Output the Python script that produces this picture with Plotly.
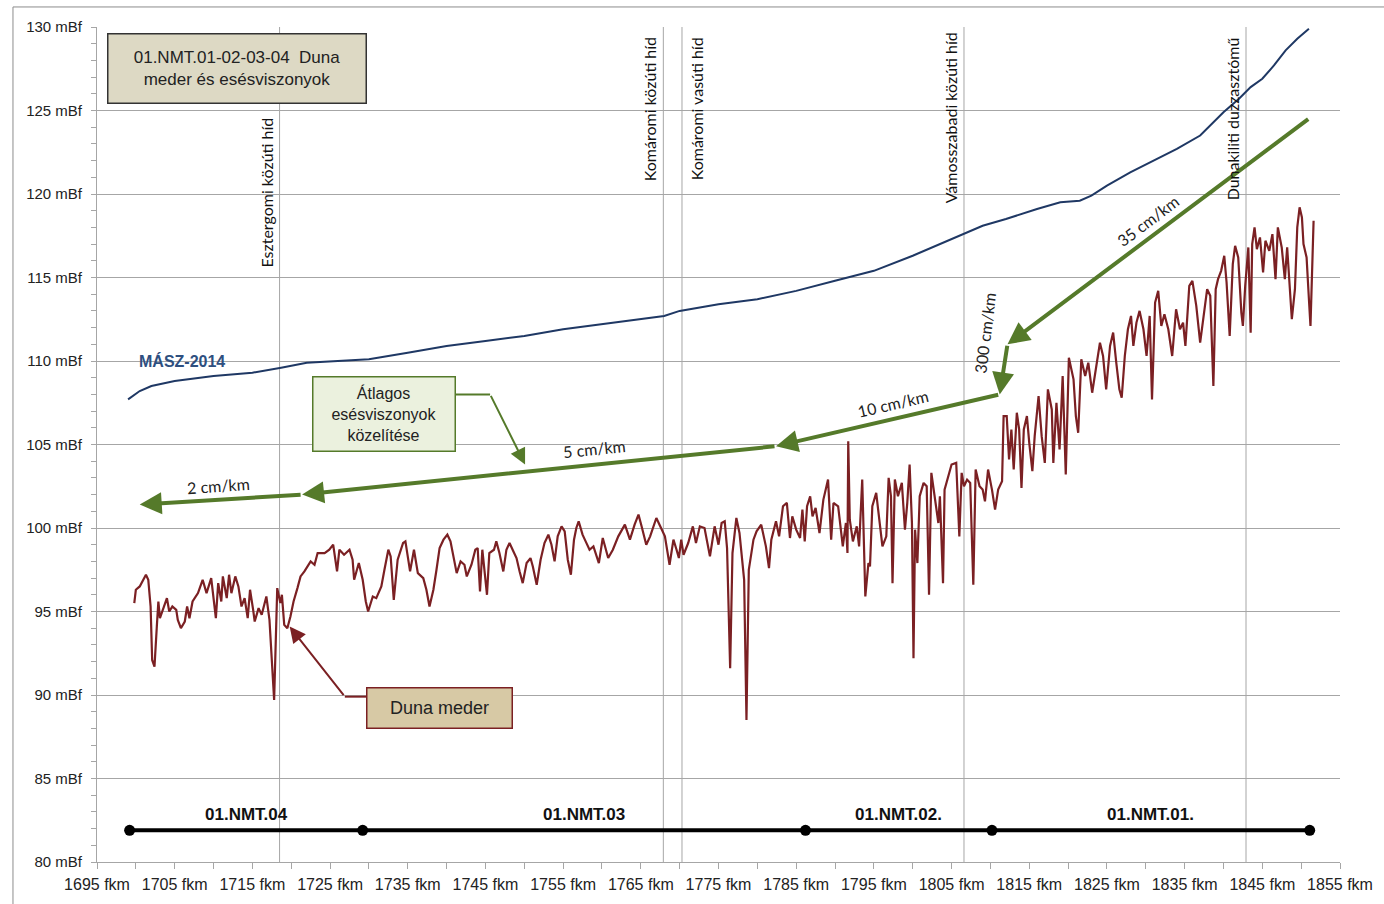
import plotly.graph_objects as go

# ---------------- data ----------------
bed_km = [1699.8, 1700.0, 1700.5, 1701.3, 1701.6, 1701.9, 1702.1, 1702.4, 1702.7, 1702.9, 1703.1, 1703.6, 1704.0,
          1704.3, 1704.7, 1705.2, 1705.4, 1705.8, 1706.3, 1706.6, 1706.9, 1707.3, 1708.0, 1708.6, 1709.1, 1709.7,
          1710.3, 1710.6, 1711.0, 1711.2, 1711.7, 1712.0, 1712.3, 1712.8, 1713.2, 1713.6, 1714.0, 1714.4, 1714.7,
          1715.1, 1715.3, 1715.8, 1716.2, 1716.8, 1717.2, 1717.8, 1718.2, 1718.6, 1718.8, 1719.1, 1719.5, 1719.9,
          1720.3, 1720.8, 1721.2, 1721.7, 1722.1, 1722.5, 1723.0, 1723.4, 1724.3, 1724.9, 1725.4, 1725.9, 1726.2,
          1726.8, 1727.5, 1727.9, 1728.1, 1728.7, 1729.2, 1729.6, 1729.9,
          1730.5, 1730.95, 1731.6, 1732.0, 1732.5, 1732.8, 1733.2, 1733.7, 1734.4, 1734.7, 1735.0, 1735.3, 1735.8,
          1736.3, 1737.0, 1737.4, 1737.8, 1738.3, 1738.7, 1739.1, 1739.6, 1740.1, 1740.5, 1740.9, 1741.3, 1741.8,
          1742.3, 1742.6, 1743.2, 1743.7, 1744.0, 1744.3, 1744.6, 1745.2, 1745.5, 1746.1, 1746.4, 1746.8, 1747.3,
          1747.7, 1748.1, 1748.5, 1749.0, 1749.4, 1749.8, 1750.3, 1750.8, 1751.1, 1751.6, 1752.1, 1752.6, 1753.1,
          1753.5, 1753.9, 1754.3, 1754.8, 1755.2, 1755.6, 1756.0, 1756.4, 1756.7, 1757.0, 1757.5, 1757.9, 1758.4,
          1758.9, 1759.6, 1760.1, 1760.8, 1761.4, 1762.1,
          1762.95, 1763.6, 1764.2, 1764.7, 1765.1, 1765.7, 1766.2, 1766.6, 1767.0, 1767.5, 1768.1, 1768.7, 1769.2,
          1769.6, 1769.9, 1770.2, 1770.5, 1771.1, 1771.7, 1772.1, 1772.6, 1773.2, 1773.9, 1774.5, 1775.0, 1775.4,
          1775.8, 1776.1, 1776.5, 1776.8, 1777.3, 1777.7, 1778.3, 1778.6, 1778.9, 1779.5, 1779.9, 1780.5, 1781.1,
          1781.5, 1781.8, 1782.4, 1782.8, 1783.3, 1783.8, 1784.2, 1784.5, 1785.0, 1785.5, 1785.8, 1786.1, 1786.4,
          1786.8, 1787.1, 1787.5, 1788.0, 1788.5, 1789.1, 1789.5, 1789.8, 1790.4, 1791.0, 1791.4, 1791.6, 1791.7,
          1791.9, 1792.3, 1792.8, 1793.1, 1793.5, 1793.9, 1794.3,
          1794.5, 1794.8, 1795.3, 1795.7, 1796.1, 1796.6, 1796.9, 1797.2, 1797.4, 1797.7, 1798.1, 1798.6, 1799.0,
          1799.3, 1799.6, 1799.9, 1800.1, 1800.3, 1800.6, 1800.9, 1801.4, 1801.8, 1802.1, 1802.4, 1802.9, 1803.3,
          1803.5, 1803.9, 1804.1, 1804.5, 1805.0, 1805.6, 1806.0, 1806.3, 1806.6, 1807.0, 1807.4, 1807.8, 1808.1,
          1808.6, 1809.0, 1809.3, 1809.7, 1810.2, 1810.6, 1811.0, 1811.5, 1811.7, 1812.1, 1812.4, 1812.7, 1813.0,
          1813.4, 1813.7, 1814.0, 1814.3, 1814.7, 1815.0, 1815.4, 1815.7, 1816.2, 1816.6, 1817.0, 1817.4, 1817.9,
          1818.1, 1818.5, 1818.9, 1819.3, 1819.7, 1820.1, 1820.7, 1821.0, 1821.3, 1821.7, 1822.2, 1822.6, 1823.1,
          1823.6,
          1824.1, 1824.5, 1824.9, 1825.4, 1825.8, 1826.2, 1826.6, 1826.9, 1827.3, 1827.7, 1828.1, 1828.4, 1828.8,
          1829.2, 1829.7, 1830.1, 1830.5, 1830.8, 1831.2, 1831.6, 1832.0, 1832.4, 1832.9, 1833.4, 1833.9, 1834.4,
          1834.8, 1835.1, 1835.6, 1836.0, 1836.5, 1837.0, 1837.5, 1837.9, 1838.3, 1838.7, 1839.0, 1839.3, 1839.7,
          1840.1, 1840.4, 1840.8, 1841.2, 1841.5, 1841.9, 1842.3, 1842.5, 1842.8, 1843.2, 1843.5, 1843.7, 1844.0,
          1844.3, 1844.7, 1845.1, 1845.4, 1845.9, 1846.3, 1846.7, 1847.0, 1847.5, 1847.9, 1848.2, 1848.5, 1848.8,
          1849.2, 1849.5, 1849.8, 1850.1, 1850.3, 1850.7, 1851.0, 1851.2, 1851.6]
bed_y = [95.5, 96.3, 96.5, 97.2, 96.9, 95.3, 92.1, 91.7, 94.1, 95.6, 94.6, 95.2, 95.8,
         95.0, 95.3, 95.1, 94.5, 94.0, 94.4, 95.3, 94.6, 95.6, 96.1, 96.9, 96.1, 97.0,
         94.6, 96.7, 95.6, 97.1, 95.8, 97.2, 96.1, 97.1, 96.5, 95.3, 95.8, 94.6, 96.3,
         95.1, 94.4, 95.2, 94.8, 95.9, 94.5, 89.7, 96.4, 95.5, 96.0, 94.2, 94.0, 94.7,
         95.6, 96.4, 97.1, 97.4, 97.7, 98.0, 97.8, 98.5, 98.5, 98.7, 99.0, 97.4, 98.7,
         98.4, 98.7, 98.1, 96.9, 97.9, 96.9, 95.6, 95.0,
         95.9, 95.8, 96.5, 97.5, 98.7, 98.3, 95.7, 98.1, 99.1, 99.2, 98.2, 97.4, 98.7,
         97.3, 97.0, 96.3, 95.3, 96.3, 97.5, 98.8, 99.3, 99.6, 99.2, 98.3, 97.3, 98.0,
         97.8, 97.1, 97.8, 98.7, 98.8, 96.2, 98.7, 96.0, 98.5, 98.7, 99.2, 98.5, 97.4,
         98.7, 99.1, 98.7, 98.2, 97.4, 96.7, 97.9, 98.2, 97.7, 96.6, 98.1, 99.1, 99.6,
         99.0, 98.0, 99.5, 100.1, 99.8, 98.1, 97.2, 99.3, 100.0, 100.4, 99.6, 99.2, 98.7,
         98.9, 97.9, 99.4, 98.2, 98.7, 99.5,
         100.2, 99.3, 100.2, 100.8, 100.1, 99.0, 99.5, 100.1, 100.6, 100.1, 99.5, 97.8, 99.3,
         98.7, 98.2, 99.3, 98.4, 99.1, 100.1, 99.1, 100.1, 100.0, 98.3, 100.1, 99.0, 100.3,
         100.4, 98.8, 91.6, 98.5, 100.6, 99.7, 96.9, 88.5, 97.5, 99.3, 99.8, 100.2, 98.9,
         97.6, 99.3, 100.4, 99.5, 101.3, 101.5, 99.4, 100.7, 99.9, 99.4, 101.1, 99.2, 101.3,
         101.9, 100.7, 101.2, 99.7, 101.7, 102.9, 99.3, 101.5, 101.3, 98.9, 100.3, 98.5, 105.2,
         100.5, 99.2, 100.1, 98.9, 102.9, 95.9, 97.9,
         97.7, 101.3, 102.1, 100.5, 98.9, 99.5, 103.0, 101.9, 96.7, 102.9, 101.9, 102.7, 99.9,
         101.5, 103.8, 100.3, 92.2, 99.9, 97.9, 101.9, 102.7, 102.5, 96.0, 103.3, 101.5, 100.3,
         101.9, 96.7, 102.3, 102.9, 103.8, 103.9, 99.5, 103.3, 102.5, 102.9, 102.7, 96.6, 103.5,
         102.5, 102.3, 101.6, 103.5, 102.3, 101.1, 102.3, 102.8, 106.7, 106.7, 104.1, 105.9, 103.5,
         106.9, 105.9, 102.4, 105.9, 106.7, 105.1, 103.4, 105.5, 107.9, 105.5, 103.9, 108.3, 107.1,
         103.9, 107.5, 104.7, 109.1, 103.2, 110.2, 108.9, 106.7, 105.7, 110.1, 109.1, 109.9, 108.1,
         109.7,
         111.1, 110.3, 108.3, 110.9, 111.7, 109.9, 108.3, 107.8, 110.3, 111.9, 112.7, 110.9, 112.3,
         113.0, 111.9, 110.3, 112.7, 107.7, 113.5, 114.2, 112.1, 112.8, 111.9, 110.3, 113.1, 111.9,
         112.3, 110.9, 114.5, 114.8, 113.3, 111.1, 112.9, 114.3, 113.9, 108.5, 114.3, 114.9, 115.4,
         116.3, 114.7, 111.5, 115.8, 116.9, 116.2, 112.9, 112.1, 114.5, 116.8, 111.7, 117.0, 118.0,
         116.7, 117.4, 115.3, 117.2, 116.6, 117.6, 114.9, 118.0, 116.8, 114.9, 116.8, 114.3, 112.5,
         114.3, 118.0, 119.2, 118.6, 117.0, 116.2, 113.7, 112.1, 118.4]

masz_km = [1699.0, 1700.5, 1702.0, 1705.0, 1710.0, 1715.0, 1718.7, 1722.0, 1726.0, 1730.0, 1735.0, 1740.0,
           1745.0, 1750.0, 1755.0, 1760.0, 1765.0, 1768.0, 1770.0, 1775.0, 1780.0, 1785.0, 1790.0, 1795.0,
           1800.0, 1803.0, 1806.7, 1809.0, 1812.0, 1816.0, 1819.0, 1821.5, 1823.0, 1825.0, 1828.0, 1831.0,
           1834.0, 1837.0, 1840.0, 1842.0, 1843.5, 1845.0, 1846.5, 1848.0, 1849.5, 1851.0]
masz_y = [107.7, 108.2, 108.5, 108.8, 109.1, 109.3, 109.6, 109.9, 110.0, 110.1, 110.5, 110.9,
          111.2, 111.5, 111.9, 112.2, 112.5, 112.7, 113.0, 113.4, 113.7, 114.2, 114.8, 115.4,
          116.3, 116.9, 117.6, 118.1, 118.5, 119.1, 119.5, 119.6, 119.9, 120.5, 121.3, 122.0,
          122.7, 123.5, 124.9, 125.7, 126.4, 126.9, 127.7, 128.6, 129.3, 129.9]

bridge_km = [1718.5, 1767.9, 1770.3, 1806.6, 1842.9]
bridge_names = ["Esztergomi közúti híd", "Komáromi közúti híd", "Komáromi vasúti híd",
                "Vámosszabadi közúti híd", "Dunakiliti duzzasztómű"]

slope_km = [1851.1, 1812.2, 1811.2, 1782.4, 1721.4, 1700.5]
slope_y = [124.55, 111.0, 108.0, 104.9, 102.0, 101.4]
slope_labels = ["35 cm/km", "300 cm/km", "10 cm/km", "5 cm/km", "2 cm/km"]

seg_km = [1699.2, 1729.2, 1786.2, 1810.2, 1851.1]
seg_names = ["01.NMT.04", "01.NMT.03", "01.NMT.02.", "01.NMT.01."]
seg_level = 81.9

# ---------------- style ----------------
NARROW = "Liberation Sans Narrow, Arial Narrow, Liberation Sans, Arial, sans-serif"
CAL = "Lato, Open Sans, sans-serif"
GRID = "#a6a6a6"
GREEN = "#557a2a"
BROWN = "#7b2023"
BLUE = "#1f3864"

fig = go.Figure()

# bridges (vertical lines)
for km in bridge_km:
    fig.add_shape(type="line", x0=km, x1=km, y0=80, y1=130, xref="x", yref="y",
                  line=dict(color=GRID, width=1), layer="below")

fig.add_trace(go.Scatter(x=masz_km, y=masz_y, mode="lines", line=dict(color=BLUE, width=2),
                         hoverinfo="skip", showlegend=False))
fig.add_trace(go.Scatter(x=bed_km, y=bed_y, mode="lines", line=dict(color=BROWN, width=2.2),
                         hoverinfo="skip", showlegend=False))

# section line
fig.add_trace(go.Scatter(x=seg_km, y=[seg_level] * len(seg_km), mode="lines+markers",
                         line=dict(color="black", width=4), marker=dict(color="black", size=11),
                         hoverinfo="skip", showlegend=False))

ann = []
for i, name in enumerate(seg_names):
    ann.append(dict(x=(seg_km[i] + seg_km[i + 1]) / 2, y=82.85, xref="x", yref="y", text="<b>%s</b>" % name,
                    showarrow=False, font=dict(family="Liberation Sans, Arial", size=17, color="#111")))

# slope arrows
for i in range(len(slope_km) - 1):
    ann.append(dict(x=slope_km[i + 1], y=slope_y[i + 1], ax=slope_km[i], ay=slope_y[i],
                    xref="x", yref="y", axref="x", ayref="y", text="", showarrow=True,
                    arrowhead=2, arrowsize=1.1, arrowwidth=4, arrowcolor=GREEN, standoff=0))

slope_pos = [(1830.3, 118.4, -37), (1809.3, 111.7, -83), (1797.4, 107.45, -13),
             (1759.1, 104.75, -6), (1710.6, 102.55, -4)]
for (x, y, a), t in zip(slope_pos, slope_labels):
    ann.append(dict(x=x, y=y, xref="x", yref="y", text=t, textangle=a, showarrow=False,
                    font=dict(family=CAL, size=16, color="#222")))

# bridge labels
bridge_top = [124.7, 129.5, 129.5, 129.8, 129.5]
bridge_side = ["right", "right", "left", "right", "right"]
for km, name, top, side in zip(bridge_km, bridge_names, bridge_top, bridge_side):
    ann.append(dict(x=km, y=top, xref="x", yref="y", text=name, textangle=-90, showarrow=False,
                    xanchor=side, yanchor="top", xshift=(-2 if side == "right" else 3),
                    font=dict(family=CAL, size=16, color="#111")))

# MÁSZ label
ann.append(dict(x=1706.0, y=110.0, xref="x", yref="y", text="<b>MÁSZ-2014</b>", showarrow=False,
                font=dict(family="Liberation Sans, Arial", size=16, color="#2e4f7f")))

# title box
ann.append(dict(x=1713.0, y=127.5, xref="x", yref="y",
                text="01.NMT.01-02-03-04\u00a0\u00a0Duna<br>meder és esésviszonyok",
                showarrow=False, width=257, height=68, bgcolor="#ddd9c4", bordercolor="#333",
                borderwidth=1.5, borderpad=0, font=dict(family=NARROW, size=17, color="#222")))

# average slope box with leader
ann.append(dict(x=1732.0, y=106.8, xref="x", yref="y",
                text="Átlagos<br>esésviszonyok<br>közelítése", showarrow=False,
                width=141, height=73, bgcolor="#ebf1de", bordercolor=GREEN, borderwidth=1.5,
                borderpad=0, font=dict(family=NARROW, size=16, color="#222")))
fig.add_shape(type="line", x0=1741.2, x1=1745.6, y0=108.0, y1=108.0, xref="x", yref="y",
              line=dict(color=GREEN, width=2))
ann.append(dict(x=1750.1, y=103.8, ax=1745.6, ay=108.0, xref="x", yref="y", axref="x", ayref="y",
                text="", showarrow=True, arrowhead=2, arrowsize=1.6, arrowwidth=2,
                arrowcolor=GREEN, standoff=0))

# Duna meder box with leader
ann.append(dict(x=1739.1, y=89.2, xref="x", yref="y", text="Duna meder", showarrow=False,
                width=144, height=39, bgcolor="#d7c9a5", bordercolor=BROWN, borderwidth=1.5,
                borderpad=0, font=dict(family=NARROW, size=18, color="#222")))
fig.add_shape(type="line", x0=1729.7, x1=1726.9, y0=89.9, y1=89.9, xref="x", yref="y",
              line=dict(color=BROWN, width=2))
ann.append(dict(x=1719.8, y=94.1, ax=1726.9, ay=89.9, xref="x", yref="y", axref="x", ayref="y",
                text="", showarrow=True, arrowhead=2, arrowsize=1.6, arrowwidth=2,
                arrowcolor=BROWN, standoff=0))

# outer frame (left and top edges)
fig.add_shape(type="line", xref="paper", yref="paper", x0=-0.0676, x1=1.05, y0=1.024, y1=1.024,
              line=dict(color="#8c8c8c", width=1))
fig.add_shape(type="line", xref="paper", yref="paper", x0=-0.0676, x1=-0.0676, y0=1.024, y1=-0.06,
              line=dict(color="#8c8c8c", width=1))

fig.update_layout(
    width=1384, height=904,
    margin=dict(l=97, r=44, t=27, b=42, autoexpand=False),
    paper_bgcolor="white", plot_bgcolor="white",
    annotations=ann, showlegend=False,
    xaxis=dict(range=[1695, 1855], tick0=1695, dtick=10, ticksuffix=" fkm", showgrid=False,
               showline=True, linecolor=GRID, linewidth=1, ticks="outside", ticklen=6, tickcolor=GRID,
               minor=dict(dtick=5, tick0=1695, ticks="outside", ticklen=6, tickcolor=GRID),
               ticklabelstandoff=2,
               tickfont=dict(family=NARROW, size=16, color="#222"), zeroline=False, fixedrange=True),
    yaxis=dict(range=[80, 130], tick0=80, dtick=5, ticksuffix=" mBf", showgrid=True, gridcolor=GRID,
               gridwidth=1, showline=True, linecolor=GRID, linewidth=1, ticks="outside", ticklen=5,
               tickcolor=GRID, ticklabelstandoff=6,
               minor=dict(dtick=1, tick0=80, ticks="outside", ticklen=5, tickcolor=GRID, showgrid=False),
               tickfont=dict(family=NARROW, size=15, color="#222"), zeroline=False, fixedrange=True),
)

fig.write_html("out.html")
